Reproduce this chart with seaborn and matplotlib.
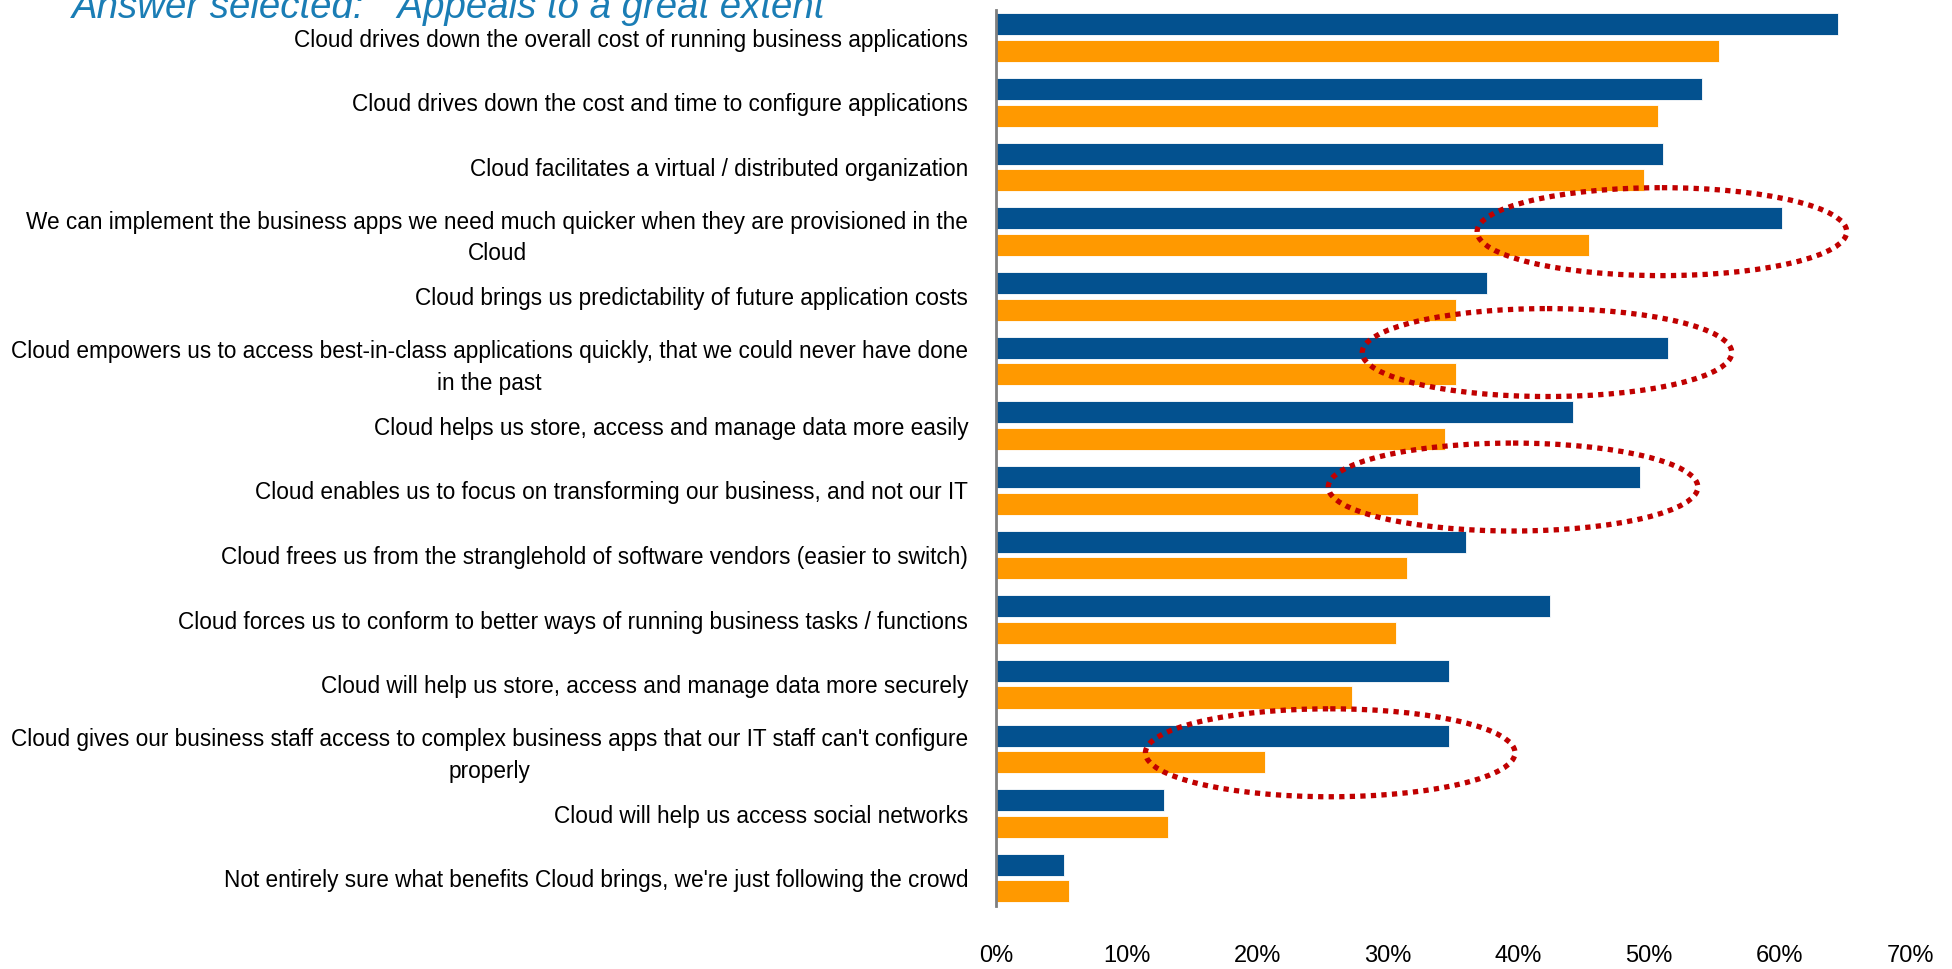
#!/usr/bin/env python3
"""
Horizontal grouped bar chart: perceived Cloud benefits
(answer selected: "Appeals to a great extent").
"""

import pandas as pd
import seaborn as sns
import matplotlib.pyplot as plt
from matplotlib.patches import Ellipse
from matplotlib.ticker import FuncFormatter

# Data
categories = [
    "Cloud drives down the overall cost of running business applications",
    "Cloud drives down the cost and time to configure applications",
    "Cloud facilitates a virtual / distributed organization",
    "We can implement the business apps we need much quicker when they are provisioned in the\nCloud",
    "Cloud brings us predictability of future application costs",
    "Cloud empowers us to access best-in-class applications quickly, that we could never have done\nin the past",
    "Cloud helps us store, access and manage data more easily",
    "Cloud enables us to focus on transforming our business, and not our IT",
    "Cloud frees us from the stranglehold of software vendors (easier to switch)",
    "Cloud forces us to conform to better ways of running business tasks / functions",
    "Cloud will help us store, access and manage data more securely",
    "Cloud gives our business staff access to complex business apps that our IT staff can't configure\nproperly",
    "Cloud will help us access social networks",
    "Not entirely sure what benefits Cloud brings, we're just following the crowd",
]
series_names = ["Group 1", "Group 2"]
group1_values = [64.5, 54.1, 51.1, 60.2, 37.6, 51.5, 44.2, 49.3, 36.0, 42.4, 34.7, 34.7, 12.9, 5.2]
group2_values = [55.4, 50.7, 49.6, 45.4, 35.2, 35.2, 34.4, 32.3, 31.5, 30.6, 27.3, 20.6, 13.2, 5.6]
x_ticks = [0, 10, 20, 30, 40, 50, 60, 70]
title_text = "Answer selected:  \u201cAppeals to a great extent\u201d"

# Red dotted rings drawn on the original slide (row, centre in %, row offset)
highlighted_rows = [3, 5, 7, 11]
ring_centres = [51.0, 42.2, 39.6, 25.6]
ring_offsets = [0.0, -0.13, -0.05, 0.06]

BLUE = "#03518f"
ORANGE = "#ff9900"
LABEL_FONT = ["Liberation Sans Narrow", "Liberation Sans", "DejaVu Sans"]


def build_frame():
    rows = []
    for cat, a, b in zip(categories, group1_values, group2_values):
        rows.append({"label": cat, "series": series_names[0], "value": a})
        rows.append({"label": cat, "series": series_names[1], "value": b})
    return pd.DataFrame(rows)


def main():
    sns.set_style("white")
    plt.rcParams["font.family"] = LABEL_FONT

    df = build_frame()
    fig = plt.figure(figsize=(19.52, 9.69), dpi=100)
    ax = fig.add_axes([0.5102, 0.065, 0.4683, 0.9248])

    sns.barplot(
        data=df, y="label", x="value", hue="series", orient="h",
        order=categories, hue_order=series_names,
        palette=[BLUE, ORANGE], saturation=1, width=0.82, gap=0.17,
        edgecolor="white", linewidth=0.6, legend=False, ax=ax,
    )

    ax.set_xlim(0, 70)
    ax.set_ylim(len(categories) - 0.57, -0.43)
    ax.set_xticks(x_ticks)
    ax.xaxis.set_major_formatter(FuncFormatter(lambda v, _: f"{v:.0f}%"))
    ax.set_xlabel("")
    ax.set_ylabel("")
    ax.tick_params(axis="x", length=0, pad=28, labelsize=17, colors="black")
    ax.tick_params(axis="y", length=0, pad=20, labelsize=16.3, colors="black")
    for lab in ax.get_yticklabels():
        lab.set_multialignment("center")
        lab.set_linespacing(1.45)

    for side in ["top", "right", "bottom"]:
        ax.spines[side].set_visible(False)
    ax.spines["left"].set_color("#7f7f7f")
    ax.spines["left"].set_linewidth(2)
    ax.grid(False)

    for row, cx, dy in zip(highlighted_rows, ring_centres, ring_offsets):
        ring = Ellipse((cx, row + dy), 28.3, 1.36, fill=False,
                       edgecolor="#c00000", linewidth=3.8,
                       linestyle=(0, (1.0, 1.0)), clip_on=False, zorder=5)
        ax.add_patch(ring)

    # title sits partly above the top edge, as on the original slide
    fig.text(0.037, 0.981, title_text, color="#1a7db5", fontsize=27.6,
             style="italic", family=["Liberation Sans", "DejaVu Sans"],
             va="baseline", ha="left")

    fig.savefig("out.png", dpi=100)


if __name__ == "__main__":
    main()
